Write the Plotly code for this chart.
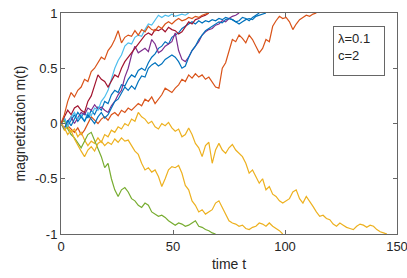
import plotly.graph_objects as go

dt = 1.5  # sampling step of the read-off values (time units)

orange_fast = [0, 0.08, 0.2, 0.28, 0.24, 0.3, 0.33, 0.4, 0.38, 0.47, 0.5, 0.55, 0.6, 0.58, 0.66, 0.7,
               0.76, 0.84, 0.73, 0.78, 0.8, 0.79, 0.84, 0.8, 0.85, 0.83, 0.88, 0.85, 0.84, 0.88, 0.86,
               0.9, 0.92, 0.9, 0.93, 0.95, 0.93, 0.94, 0.96, 0.95, 0.97, 0.96, 0.98, 0.99, 1.0]
light_blue = [0, 0.05, -0.03, 0.06, 0.1, 0.04, 0.08, 0.02, 0.1, 0.07, 0.14, 0.12, 0.2, 0.24, 0.3, 0.4,
              0.5, 0.57, 0.62, 0.7, 0.73, 0.72, 0.78, 0.8, 0.79, 0.85, 0.9, 0.89, 0.94, 0.98, 0.96,
              0.98, 0.97, 0.99, 0.97, 0.98, 0.99, 0.98, 1.0]
dark_red = [0, 0.06, 0.12, 0.08, 0.14, 0.16, 0.12, 0.1, 0.2, 0.25, 0.35, 0.44, 0.4, 0.38, 0.33, 0.38,
            0.44, 0.42, 0.5, 0.56, 0.6, 0.64, 0.68, 0.72, 0.75, 0.8, 0.82, 0.8, 0.85, 0.84, 0.86,
            0.83, 0.87, 0.85, 0.84, 0.81, 0.83, 0.88, 0.92, 0.9, 0.94, 0.95, 0.97, 0.98, 1.0]
purple = [0, -0.04, 0.02, 0.06, 0.0, 0.05, 0.1, 0.08, 0.14, 0.12, 0.17, 0.13, 0.15, 0.12, 0.1, 0.16,
          0.2, 0.26, 0.3, 0.42, 0.5, 0.62, 0.7, 0.64, 0.66, 0.68, 0.65, 0.76, 0.72, 0.64, 0.66, 0.7,
          0.72, 0.74, 0.82, 0.66, 0.58, 0.56, 0.6, 0.66, 0.7, 0.74, 0.8, 0.83, 0.85, 0.86, 0.89, 0.9,
          0.93, 0.92, 0.95, 0.97, 0.98, 1.0]
blue_upper = [0, 0.05, -0.02, 0.03, 0.08, 0.02, 0.06, 0.1, 0.05, 0.12, 0.08, 0.15, 0.12, 0.2, 0.18,
              0.26, 0.3, 0.28, 0.35, 0.34, 0.4, 0.44, 0.42, 0.48, 0.5, 0.48, 0.55, 0.6, 0.63, 0.68,
              0.7, 0.74, 0.72, 0.78, 0.8, 0.82, 0.86, 0.88, 0.9, 0.92, 0.9, 0.93, 0.91, 0.93, 0.92,
              0.94, 0.93, 0.95, 0.94, 0.96, 0.95, 0.94, 0.92, 0.93, 0.96, 0.95, 0.93, 0.96, 0.98, 1.0]
blue_lower = [0, -0.05, 0.03, -0.02, 0.04, 0.1, 0.06, 0.02, 0.08, 0.04, 0.0, 0.06, 0.1, 0.05, 0.08,
              0.14, 0.2, 0.22, 0.28, 0.33, 0.3, 0.34, 0.31, 0.38, 0.43, 0.42, 0.5, 0.53, 0.55, 0.52,
              0.54, 0.58, 0.6, 0.62, 0.6, 0.56, 0.5, 0.52, 0.6, 0.66, 0.7, 0.76, 0.8, 0.84, 0.86,
              0.88, 0.9, 0.92, 0.91, 0.94, 0.95, 0.94, 0.92, 0.9, 0.92, 0.94, 0.95, 0.94, 0.97, 0.98,
              0.99, 1.0]
orange_slow = [0, 0.03, -0.02, -0.05, -0.08, -0.04, -0.1, -0.06, 0.0, 0.06, 0.03, 0.0, 0.04, 0.06,
               0.03, 0.08, 0.1, 0.07, 0.12, 0.1, 0.14, 0.12, 0.15, 0.18, 0.16, 0.22, 0.2, 0.24, 0.18,
               0.22, 0.26, 0.32, 0.3, 0.28, 0.32, 0.35, 0.4, 0.38, 0.44, 0.41, 0.45, 0.42, 0.44, 0.4,
               0.42, 0.37, 0.33, 0.32, 0.5, 0.55, 0.66, 0.76, 0.74, 0.8, 0.77, 0.73, 0.8, 0.76, 0.7,
               0.64, 0.68, 0.76, 0.74, 0.88, 0.93, 0.97, 0.95, 0.96, 0.92, 0.85, 0.9, 0.94, 0.96,
               0.98, 0.97, 0.99, 1.0]
yellow_long = [0, -0.06, -0.03, -0.08, -0.05, -0.12, -0.08, -0.15, -0.2, -0.16, -0.18, -0.13, -0.17,
               -0.1, -0.12, -0.06, -0.08, -0.03, -0.05, 0.0, -0.02, 0.04, 0.02, 0.1, 0.06, 0.04, 0.0,
               0.02, -0.03, -0.05, 0.0, -0.02, 0.01, -0.04, -0.07, -0.05, -0.12, -0.1, -0.04, -0.1,
               -0.18, -0.22, -0.3, -0.2, -0.17, -0.36, -0.24, -0.18, -0.24, -0.27, -0.22, -0.19, -0.24,
               -0.27, -0.3, -0.36, -0.45, -0.42, -0.48, -0.54, -0.5, -0.6, -0.57, -0.64, -0.66, -0.7,
               -0.72, -0.7, -0.68, -0.62, -0.6, -0.68, -0.72, -0.66, -0.7, -0.75, -0.8, -0.84, -0.83,
               -0.86, -0.87, -0.91, -0.93, -0.9, -0.92, -0.94, -0.95, -0.96, -0.93, -0.91, -0.92,
               -0.94, -0.92, -0.93, -0.96, -0.98, -0.99, -1.0]
yellow_short = [0, -0.04, -0.1, -0.06, -0.14, -0.2, -0.25, -0.3, -0.24, -0.21, -0.25, -0.18, -0.16,
                -0.2, -0.17, -0.19, -0.14, -0.17, -0.13, -0.16, -0.15, -0.2, -0.25, -0.28, -0.36,
                -0.42, -0.4, -0.44, -0.42, -0.48, -0.57, -0.5, -0.42, -0.39, -0.4, -0.38, -0.45,
                -0.56, -0.6, -0.7, -0.74, -0.8, -0.78, -0.82, -0.8, -0.78, -0.72, -0.7, -0.76, -0.82,
                -0.88, -0.9, -0.91, -0.93, -0.92, -0.95, -0.96, -0.94, -0.93, -0.9, -0.91, -0.93,
                -0.9, -0.93, -0.95, -0.97, -1.0]
green = [0, 0.03, -0.05, -0.1, -0.13, -0.18, -0.22, -0.16, -0.1, -0.08, -0.15, -0.22, -0.3, -0.4,
         -0.36, -0.5, -0.6, -0.66, -0.6, -0.58, -0.62, -0.68, -0.7, -0.74, -0.76, -0.72, -0.74, -0.8,
         -0.82, -0.84, -0.83, -0.85, -0.88, -0.9, -0.92, -0.9, -0.91, -0.93, -0.92, -0.9, -0.88,
         -0.93, -0.94, -0.96, -0.97, -0.99, -1.0]

series = [
    (blue_upper, "#0072BD"),
    (orange_slow, "#D95319"),
    (yellow_long, "#EDB120"),
    (purple, "#7E2F8E"),
    (green, "#77AC30"),
    (light_blue, "#4DBEEE"),
    (dark_red, "#A2142F"),
    (blue_lower, "#0072BD"),
    (orange_fast, "#D95319"),
    (yellow_short, "#EDB120"),
]

x_ticks = [0, 50, 100, 150]
y_ticks = [-1, -0.5, 0, 0.5, 1]
y_tick_text = ["-1", "-0.5", "0", "0.5", "1"]

fig = go.Figure()
for vals, col in series:
    t = [i * dt for i in range(len(vals))]
    fig.add_trace(go.Scatter(x=t, y=vals, mode="lines",
                             line=dict(color=col, width=1.2), showlegend=False,
                             hoverinfo="skip"))

axis_common = dict(showgrid=False, zeroline=False, showline=True, mirror="ticks",
                   linecolor="#666666", linewidth=1, ticks="inside", ticklen=4,
                   tickcolor="#666666", tickfont=dict(size=13, color="#262626"),
                   automargin=False, ticklabeloverflow="allow")

fig.update_layout(
    width=407, height=278,
    margin=dict(l=61, r=10, t=13, b=44),
    paper_bgcolor="white", plot_bgcolor="white",
    font=dict(family="Liberation Sans, Arial, sans-serif", color="#262626"),
    xaxis=dict(range=[0, 150], tickvals=x_ticks,
               title=dict(text="time t", font=dict(size=14), standoff=6), **axis_common),
    yaxis=dict(range=[-1, 1], tickvals=y_ticks, ticktext=y_tick_text,
               title=dict(text="magnetization m(t)", font=dict(size=14), standoff=6), **axis_common),
    annotations=[dict(
        x=0.81, y=0.941, xref="paper", yref="paper", xanchor="left", yanchor="top",
        text="λ=0.1<br>c=2", showarrow=False, align="left", valign="top",
        font=dict(size=13, color="#262626"),
        bordercolor="#666666", borderwidth=1, borderpad=4, bgcolor="white",
        width=42, height=40,
    )],
)

fig.write_html("out.html", config={"displayModeBar": False},
               post_script="document.body.style.margin='0';")
